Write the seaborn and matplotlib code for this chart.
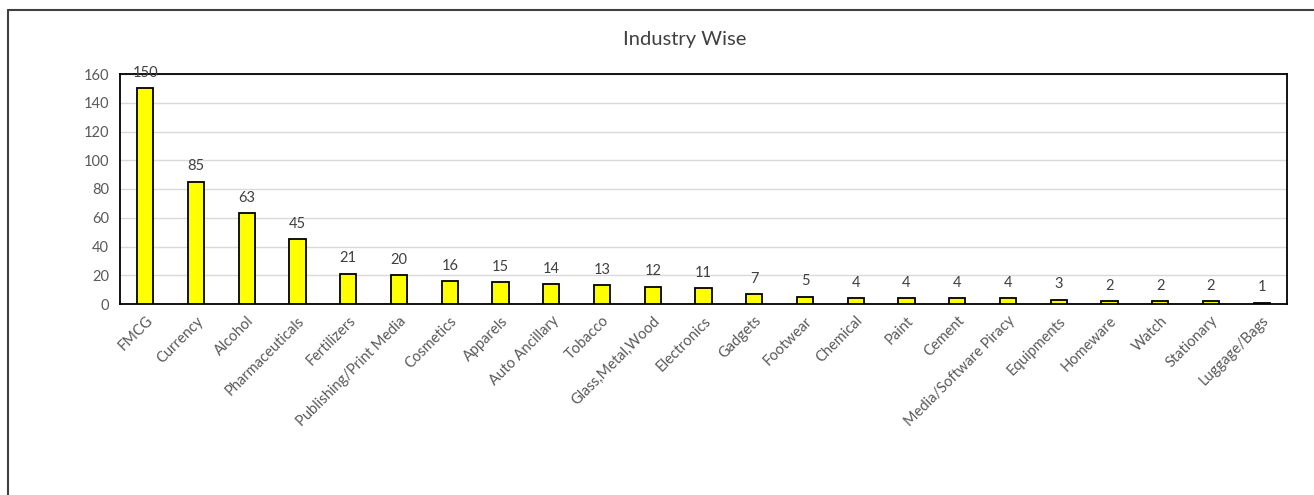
import matplotlib
matplotlib.use("Agg")
import matplotlib.pyplot as plt
from matplotlib.lines import Line2D
import seaborn as sns
import pandas as pd

categories = ["FMCG", "Currency", "Alcohol", "Pharmaceuticals", "Fertilizers",
              "Publishing/Print Media", "Cosmetics", "Apparels", "Auto Ancillary",
              "Tobacco", "Glass,Metal,Wood", "Electronics", "Gadgets", "Footwear",
              "Chemical", "Paint", "Cement", "Media/Software Piracy", "Equipments",
              "Homeware", "Watch", "Stationary", "Luggage/Bags"]
values = [150, 85, 63, 45, 21, 20, 16, 15, 14, 13, 12, 11, 7, 5, 4, 4, 4, 4, 3, 2, 2, 2, 1]
y_ticks = [0, 20, 40, 60, 80, 100, 120, 140, 160]
title = "Industry Wise"

sns.set_theme(style="white")
plt.rcParams['font.family'] = ['Lato', 'DejaVu Sans']

df = pd.DataFrame({"cat": categories, "val": values})

W, H = 1314, 495
fig = plt.figure(figsize=(W / 100, H / 100), dpi=100)
ax = fig.add_axes([120 / W, 1 - 304 / H, (1287 - 120) / W, (304 - 74) / H])

sns.barplot(data=df, x="cat", y="val", color="#FFFF00", width=0.32,
            edgecolor="black", linewidth=1.3, saturation=1, ax=ax, zorder=3)

ax.set_ylim(0, 160)
ax.set_xlim(-0.5, len(categories) - 0.5)
ax.set_yticks(y_ticks)
ax.yaxis.grid(True, color="#d9d9d9", linewidth=1, zorder=0)
ax.set_axisbelow(True)
ax.set_xlabel("")
ax.set_ylabel("")
for s in ax.spines.values():
    s.set_visible(True)
    s.set_color("black")
    s.set_linewidth(1.3)
ax.tick_params(axis="y", labelsize=10.5, labelcolor="#595959", length=0, pad=8)
ax.tick_params(axis="x", labelsize=10.5, labelcolor="#595959", length=0, pad=7)
plt.setp(ax.get_xticklabels(), rotation=45, ha="right", rotation_mode="anchor")

for i, v in enumerate(values):
    ax.annotate(str(v), (i, v), xytext=(0, 6), textcoords="offset points",
                ha="center", va="bottom", fontsize=10.5, color="#404040")

fig.text(685 / W, 1 - 40 / H, title, ha="center", va="center", fontsize=14.5, color="#404040")

# outer chart frame (top and left)
fig.add_artist(Line2D([8 / W, 1], [1 - 10 / H, 1 - 10 / H], color="#404040", linewidth=1.5,
                      transform=fig.transFigure))
fig.add_artist(Line2D([8 / W, 8 / W], [0, 1 - 10 / H], color="#404040", linewidth=1.5,
                      transform=fig.transFigure))

fig.savefig("out.png", dpi=100, facecolor="white")
